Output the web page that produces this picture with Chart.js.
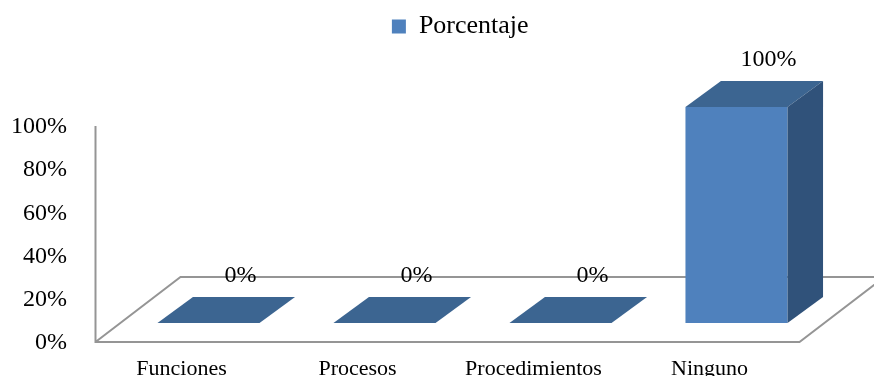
<!DOCTYPE html>
<html>
<head>
<meta charset="utf-8">
<title>Porcentaje</title>
<script src="https://cdn.jsdelivr.net/npm/chart.js@4.4.1/dist/chart.umd.min.js"></script>
<style>
    html, body { margin: 0; padding: 0; background: #fff; }
    #wrap { width: 874px; height: 376px; position: relative; }
</style>
</head>
<body>
<div id="wrap"><canvas id="chart"></canvas></div>
<script>
// Data
const categories = ['Funciones', 'Procesos', 'Procedimientos', 'Ninguno'];
const porcentaje = [0, 0, 0, 100];
const yTickValues = [0, 20, 40, 60, 80, 100];

const FRONT = '#4F81BD';
const TOP = '#3C6591';
const SIDE = '#30527A';
const FLOOR_LINE = '#959595';

// depth of the bars and of the floor (Excel-like 3D look)
const BAR_DX = 35.5, BAR_DY = 26;
const FLOOR_DX = 85, FLOOR_DY = 65;
const LEGEND_SHIFT = 48;

Chart.defaults.font.family = "'Liberation Serif', 'Times New Roman', serif";
Chart.defaults.color = '#000';

/**
 * Legend: more room below it, and moved a bit to the right like in Excel
 */
const legendTweak = {
    id: 'legendTweak',
    afterInit(chart) {
        const legend = chart.legend;
        if (!legend) return;
        const origFit = legend.fit;
        legend.fit = function () {
            origFit.call(this);
            this.height += 57.5;
        };
        const origDraw = legend.draw;
        legend.draw = function () {
            const c = this.ctx;
            c.save();
            c.translate(LEGEND_SHIFT, 0);
            origDraw.call(this);
            c.restore();
        };
    }
};

/**
 * Draws floor, wall edge, bar tops/sides and the value labels
 */
const depth3d = {
    id: 'depth3d',
    beforeDatasetsDraw(chart) {
        const { ctx, chartArea: a, scales: { y } } = chart;
        const y0 = y.getPixelForValue(0);
        const yMax = y.getPixelForValue(yTickValues[yTickValues.length - 1]);
        const fl = a.left - 25, fr = a.right - 25, fy = y0 + 19;

        ctx.save();
        ctx.strokeStyle = FLOOR_LINE;
        ctx.lineWidth = 2;
        ctx.beginPath();
        ctx.moveTo(fl, yMax + 19);
        ctx.lineTo(fl, fy);
        ctx.lineTo(fr, fy);
        ctx.lineTo(fr + FLOOR_DX, fy - FLOOR_DY);
        ctx.moveTo(fl, fy);
        ctx.lineTo(fl + FLOOR_DX, fy - FLOOR_DY);
        ctx.lineTo(fr + FLOOR_DX, fy - FLOOR_DY);
        ctx.stroke();
        ctx.restore();
    },
    afterDatasetsDraw(chart) {
        const { ctx } = chart;
        const meta = chart.getDatasetMeta(0);

        ctx.save();
        meta.data.forEach((bar, i) => {
            const { x, y, base, width } = bar.getProps(['x', 'y', 'base', 'width'], true);
            const l = x - width / 2, r = x + width / 2;

            // top face
            ctx.fillStyle = TOP;
            ctx.beginPath();
            ctx.moveTo(l, y);
            ctx.lineTo(r, y);
            ctx.lineTo(r + BAR_DX, y - BAR_DY);
            ctx.lineTo(l + BAR_DX, y - BAR_DY);
            ctx.closePath();
            ctx.fill();

            // side face
            if (base - y > 0.5) {
                ctx.fillStyle = SIDE;
                ctx.beginPath();
                ctx.moveTo(r, y);
                ctx.lineTo(r + BAR_DX, y - BAR_DY);
                ctx.lineTo(r + BAR_DX, base - BAR_DY);
                ctx.lineTo(r, base);
                ctx.closePath();
                ctx.fill();
            }

            // value label
            ctx.fillStyle = '#000';
            ctx.font = "24px 'Liberation Serif', 'Times New Roman', serif";
            ctx.textAlign = 'center';
            ctx.textBaseline = 'middle';
            ctx.fillText(porcentaje[i] + '%', x + 32, y - BAR_DY - 21);
        });
        ctx.restore();
    }
};

const ctx = document.getElementById('chart');
new Chart(ctx, {
    type: 'bar',
    data: {
        labels: categories,
        datasets: [{
            label: 'Porcentaje',
            data: porcentaje,
            backgroundColor: FRONT,
            borderWidth: 0,
            barPercentage: 0.58,
            categoryPercentage: 1
        }]
    },
    options: {
        responsive: true,
        maintainAspectRatio: false,
        animation: false,
        layout: {
            padding: { top: 3.5, left: 0, right: 49.5, bottom: 0 }
        },
        plugins: {
            legend: {
                position: 'top',
                labels: {
                    boxWidth: 14,
                    boxHeight: 14,
                    padding: 10,
                    font: { size: 26 }
                }
            },
            tooltip: { enabled: false }
        },
        scales: {
            x: {
                grid: { display: false, drawTicks: false },
                border: { display: false },
                ticks: {
                    font: { size: 22 },
                    padding: 33,
                    labelOffset: -27,
                    maxRotation: 0,
                    autoSkip: false
                },
                afterFit(scale) {
                    scale.height = 53;
                    scale.paddingLeft = 0;
                    scale.paddingRight = 0;
                }
            },
            y: {
                min: 0,
                max: 100,
                grid: { display: false, drawTicks: false },
                border: { display: false },
                afterBuildTicks(scale) {
                    scale.ticks = yTickValues.map(v => ({ value: v }));
                },
                ticks: {
                    font: { size: 24 },
                    padding: 53.5,
                    labelOffset: 20,
                    callback: v => v + '%'
                },
                afterFit(scale) {
                    scale.width = 120.5;
                    scale.paddingTop = 0;
                    scale.paddingBottom = 0;
                }
            }
        }
    },
    plugins: [legendTweak, depth3d]
});
</script>
</body>
</html>
